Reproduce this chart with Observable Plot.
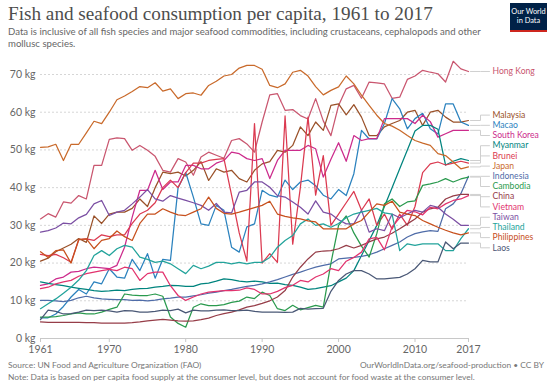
<!DOCTYPE html>
<html><head><meta charset="utf-8">
<script src="https://cdn.jsdelivr.net/npm/d3@7"></script>
<script src="https://cdn.jsdelivr.net/npm/@observablehq/plot@0.6"></script>
<style>
body{margin:0;background:#fff;width:550px;height:388px;overflow:hidden;position:relative;font-family:Lato,"Noto Sans",sans-serif}
#title{position:absolute;left:8px;top:3px;font-family:"Liberation Serif",serif;font-size:19.2px;color:#4d4d4d;white-space:nowrap}
#subtitle{position:absolute;left:8px;top:26px;font-size:9.6px;line-height:11.5px;color:#666;white-space:nowrap}
#logo{position:absolute;right:3px;top:3px;width:37px;height:29px;background:#002147;color:#fff;font-size:7.4px;line-height:8.5px;text-align:center;box-sizing:border-box;padding-top:5px;border-bottom:2.5px solid #ce261e}
#chart{position:absolute;left:0;top:54px}
.foot{position:absolute;font-size:8.4px;color:#777;white-space:nowrap}
</style></head>
<body>
<div id="title">Fish and seafood consumption per capita, 1961 to 2017</div>
<div id="subtitle">Data is inclusive of all fish species and major seafood commodities, including crustaceans, cephalopods and other<br>mollusc species.</div>
<div id="logo">Our World<br>in Data</div>
<div id="chart"></div>
<div class="foot" style="left:8px;top:360px">Source: UN Food and Agriculture Organization (FAO)</div>
<div class="foot" style="right:6px;top:360px">OurWorldInData.org/seafood-production • CC BY</div>
<div class="foot" style="left:8px;top:372px">Note: Data is based on per capita food supply at the consumer level, but does not account for food waste at the consumer level.</div>
<script>
const years = d3.range(1961, 2018);
const xTicks = [1961, 1970, 1980, 1990, 2000, 2010, 2017];
const yTicks = [0, 10, 20, 30, 40, 50, 60, 70];

const countries = ["Hong Kong","Malaysia","Macao","South Korea","Myanmar","Brunei","Japan","Indonesia","Cambodia","China","Vietnam","Taiwan","Thailand","Philippines","Laos"];

const hongKong = [31.7,33.1,32.2,36.2,35.9,37.9,37.0,45.9,45.9,52.8, 53.2,53.0,49.9,51.2,49.9,48.3,44.6,44.1,47.7,46.8, 43.3,48.1,49.4,48.6,47.8,52.5,53.0,51.6,49.4,57.4, 64.6,64.9,60.5,60.7,59.1,58.2,63.6,57.7,53.8,61.8, 66.2,67.1,63.7,68.0,67.8,67.5,63.7,64.0,68.7,69.6, 71.1,70.6,70.2,68.0,73.5,71.5,70.8];
const malaysia = [20.5,21.3,23.0,24.0,25.0,26.5,25.5,32.5,30.5,33.0, 33.5,33.5,34.5,37.0,35.0,40.0,44.1,43.7,44.1,43.1, 44.6,46.9,41.9,45.0,44.1,44.6,42.4,41.5,44.6,46.3, 46.9,49.9,49.4,51.2,56.1,53.8,57.4,55.2,61.8,62.2, 59.3,62.0,58.7,53.8,53.8,56.1,57.0,57.8,60.0,60.5, 56.5,60.0,60.5,58.7,57.4,57.4,57.8];
const macao = [5.5,5.5,6.5,8.5,11.0,13.0,11.8,15.0,14.5,18.5, 16.3,16.0,21.0,18.0,22.5,16.0,21.0,20.7,40.0,44.0, 37.5,30.4,30.0,35.3,34.0,24.2,22.9,29.6,30.4,39.3, 38.0,37.5,42.0,39.5,41.5,42.0,40.5,38.0,37.0,39.5, 37.9,43.7,55.2,52.9,52.9,57.0,63.6,60.9,55.6,58.3, 59.7,55.6,54.2,62.2,62.2,57.4,56.5];
const southKorea = [14.1,14.5,15.8,16.3,17.6,17.8,18.5,18.9,18.7,18.5, 19.4,24.2,32.2,39.3,39.3,44.6,39.5,41.5,41.5,45.9, 45.9,45.0,45.0,46.5,47.2,49.4,49.0,47.7,47.2,47.7, 42.4,47.2,49.9,49.9,49.9,51.2,50.3,42.8,47.5,51.9, 47.0,53.8,52.5,53.0,53.0,58.3,58.3,58.3,58.3,57.0, 59.2,57.5,53.4,54.3,55.2,55.2,55.2];
const myanmar = [15.0,14.6,14.3,14.0,13.6,13.3,13.0,12.7,12.5,12.6, 12.8,12.7,13.0,13.2,13.3,13.6,13.8,14.1,14.0,13.8, 13.8,14.5,14.7,15.2,15.8,15.6,15.2,15.0,15.2,15.0, 14.6,14.7,14.3,14.1,13.6,13.0,13.2,13.6,14.0,15.0, 16.0,18.0,22.0,26.0,30.0,35.0,40.0,45.0,50.0,55.0, 56.5,56.5,55.5,46.0,47.0,47.7,47.2];
const brunei = [22.3,22.0,22.3,21.4,20.2,26.2,26.4,26.0,27.5,27.0, 27.5,27.5,30.5,33.0,34.0,36.0,40.0,42.0,40.0,44.0, 46.5,46.5,47.2,47.5,47.7,38.0,28.0,20.5,57.0,20.0, 22.5,20.2,59.0,25.0,40.0,58.7,38.0,48.5,30.0,33.0, 36.0,39.0,34.0,37.0,30.0,33.0,29.0,33.0,30.0,35.0, 44.0,46.3,46.8,46.0,46.5,47.0,46.5];
const japan = [50.7,50.8,51.5,47.2,51.5,51.5,54.5,57.6,57.0,60.0, 63.3,64.3,65.5,66.8,66.5,67.8,65.6,66.2,63.6,64.9, 65.1,64.5,67.1,68.2,69.6,70.0,71.7,72.4,72.4,71.4, 67.1,66.5,67.5,70.6,71.1,69.6,66.8,64.6,65.8,66.7, 69.6,67.5,64.5,61.8,59.2,57.0,56.3,55.2,53.8,52.5, 51.8,51.2,49.0,48.5,46.8,45.0,45.5];
const indonesia = [10.1,10.1,10.0,9.8,10.1,10.8,11.2,10.8,10.5,10.4, 10.3,10.3,10.1,10.2,10.0,10.2,10.5,10.7,11.0,11.0, 11.3,11.6,12.0,12.3,12.7,13.0,13.4,13.8,14.1,14.5, 15.0,15.6,16.3,17.0,17.6,18.3,18.9,19.4,19.8,21.1, 21.3,21.5,21.8,22.2,22.9,23.8,24.7,25.6,26.9,27.8, 28.3,28.6,28.4,34.4,35.7,38.4,43.0];
const cambodia = [5.7,5.7,5.8,6.1,6.5,6.8,6.5,6.5,7.0,7.7, 8.3,11.8,11.5,11.4,11.4,11.8,11.2,5.7,4.0,3.0, 8.3,9.2,8.7,8.7,9.0,9.6,9.9,11.0,10.6,12.3, 11.4,7.9,7.4,8.8,7.6,8.2,8.8,8.3,20.0,30.0, 32.5,28.0,24.5,21.6,27.8,35.7,37.0,35.0,36.2,36.5, 40.6,41.0,41.5,42.4,41.5,42.3,42.8];
const china = [4.4,4.3,4.3,4.3,4.3,4.3,4.2,4.2,4.1,4.1, 4.1,4.1,4.2,4.4,4.7,4.9,5.1,4.9,4.7,4.6, 4.7,5.0,5.4,6.1,6.6,7.0,7.6,8.3,8.7,9.3, 10.0,11.0,12.7,16.3,18.9,21.1,22.9,23.2,23.3,23.8, 24.7,24.0,24.7,25.6,26.4,26.9,27.9,29.1,30.4,31.7, 33.5,34.4,34.8,37.0,37.8,38.2,38.2];
const vietnam = [13.2,13.6,14.5,15.0,15.4,16.5,17.2,17.6,18.0,18.3, 18.0,18.9,18.5,15.4,17.2,17.6,17.6,14.0,11.4,10.1, 11.0,11.8,12.3,12.5,12.7,12.7,12.8,13.4,13.0,11.8, 11.8,12.5,13.5,14.1,15.4,15.0,16.3,17.1,18.5,18.0, 20.5,21.5,22.9,26.4,26.8,23.5,29.6,32.0,34.0,33.6, 32.8,34.8,34.4,35.7,36.6,37.0,37.9];
const taiwan = [28.2,28.6,29.3,30.6,30.4,32.0,32.9,35.7,36.6,32.6, 33.5,34.0,35.7,37.5,39.5,37.0,36.4,37.9,37.2,36.6, 36.0,35.3,34.0,35.8,33.5,33.3,38.8,39.3,41.5,41.5, 40.1,37.9,37.5,36.2,34.8,33.0,36.5,33.5,33.0,31.5, 30.4,30.4,34.0,28.2,29.1,28.6,33.0,32.0,33.0,34.0, 33.5,35.3,34.8,33.0,31.6,30.0,30.0];
const thailand = [7.9,9.2,10.5,12.0,13.6,15.5,18.0,22.0,23.3,22.0, 23.8,24.7,24.2,21.6,21.0,20.2,20.5,19.8,18.5,17.2, 19.4,18.5,19.2,20.2,20.2,19.8,20.2,19.8,20.2,20.2, 21.5,24.2,26.0,27.3,30.4,31.7,30.0,30.4,29.5,30.5, 32.0,33.0,33.5,34.0,34.5,33.3,33.0,23.3,25.1,24.7, 25.1,25.1,25.1,23.3,23.3,26.5,29.1];
const philippines = [23.0,21.5,23.3,23.5,20.0,26.2,26.4,23.8,26.0,26.5, 28.5,27.0,26.0,30.5,33.0,33.0,34.4,33.5,32.8,32.6, 33.5,34.4,37.5,34.5,33.2,33.0,33.5,34.1,34.7,35.3, 36.4,33.0,32.4,32.0,31.7,31.2,30.9,29.1,29.1,29.1, 29.1,30.4,31.3,33.5,35.7,35.3,36.4,33.5,33.0,32.6, 31.3,30.4,29.5,28.7,28.0,27.5,28.0];
const laos = [5.0,7.5,7.2,6.5,6.6,7.0,7.5,7.4,7.5,7.3, 7.0,7.4,7.3,7.0,7.0,7.2,7.5,7.4,7.8,6.8, 7.5,7.3,7.3,7.5,7.6,7.4,7.4,7.5,7.2,7.0, 7.0,7.0,6.9,7.0,8.0,7.8,7.9,8.0,12.5,15.4, 17.1,18.0,18.0,17.1,15.8,15.8,16.0,16.2,17.1,18.5, 20.7,20.3,20.3,25.6,23.8,25.3,25.3];

const seriesValues = [hongKong, malaysia, macao, southKorea, myanmar, brunei, japan, indonesia, cambodia, china, vietnam, taiwan, thailand, philippines, laos];
const palette = ["#C9566F","#9A5129","#2B82BE","#CC2B8C","#00847E","#DB3A50","#C96A2B","#4F6CA8","#2A9A4E","#963D48","#E2336E","#7B4FA3","#22A39B","#C7501D","#4A5876"];

const rows = [];
countries.forEach((c, i) => seriesValues[i].forEach((v, j) => rows.push({country: c, year: years[j], value: v})));

const base = {
  width: 550, height: 306,
  marginTop: 20, marginBottom: 22, marginLeft: 40, marginRight: 82,
  x: {domain: [1961, 2017], label: null},
  y: {domain: [0, 70], label: null},
  color: {domain: countries, range: palette},
  style: {fontFamily: "Lato, 'Noto Sans', sans-serif", fontSize: "10.5px", color: "#666", background: "transparent", overflow: "visible"}
};

const probe = Plot.plot({...base, marks: [Plot.line(rows, {x: "year", y: "value", z: "country"})]});
const xs = probe.scale("x"), ys = probe.scale("y");

// label placement: avoid overlaps, centred on line ends
const lastYear = years[years.length - 1];
const ends = countries.map((c, i) => ({country: c, end: seriesValues[i][seriesValues[i].length - 1]}));
ends.forEach(d => d.t = ys.apply(d.end));
const sorted = ends.slice().sort((a, b) => a.t - b.t);
const gap = 10.2;
let blocks = [];
const topOf = blk => d3.mean(blk.items, (d, k) => d.t - k * gap);
for (const it of sorted) {
  blocks.push({items: [it]});
  while (blocks.length > 1) {
    const b = blocks[blocks.length - 1], a = blocks[blocks.length - 2];
    if (topOf(a) + a.items.length * gap > topOf(b)) {
      blocks.splice(blocks.length - 2, 2, {items: a.items.concat(b.items)});
    } else break;
  }
}
for (const blk of blocks) {
  const top = topOf(blk);
  blk.items.forEach((d, k) => d.py = top + k * gap);
}
const xEndPx = xs.apply(lastYear);
const xa = xs.invert(xEndPx + 2), xb = xs.invert(xEndPx + 12), xc = xs.invert(xEndPx + 21), xl = xs.invert(xEndPx + 24);
const connectors = [];
const labels = [];
for (const d of ends) {
  const yl = ys.invert(d.py);
  connectors.push({country: d.country, x: xa, y: d.end}, {country: d.country, x: xb, y: d.end}, {country: d.country, x: xb, y: yl}, {country: d.country, x: xc, y: yl});
  labels.push({country: d.country, x: xl, y: yl});
}

const chart = Plot.plot({
  ...base,
  marks: [
    Plot.gridY(yTicks.filter(t => t > 0), {stroke: "#d6d6d6", strokeOpacity: 1, strokeDasharray: "2,2"}),
    Plot.ruleY([0], {stroke: "#c8c8c8"}),
    Plot.axisX({ticks: xTicks, tickFormat: d => String(d), tickSize: 4, tickPadding: 3, stroke: "#c8c8c8", fill: "#666"}),
    Plot.axisY({ticks: yTicks, tickFormat: d => `${d} kg`, tickSize: 0, tickPadding: 5, fill: "#666"}),
    Plot.line(connectors, {x: "x", y: "y", z: "country", stroke: "#cfcfcf", strokeWidth: 1}),
    Plot.line(rows, {x: "year", y: "value", z: "country", stroke: "country", strokeWidth: 1.25}),
    Plot.text(labels, {x: "x", y: "y", text: "country", fill: "country", textAnchor: "start", fontSize: 8.6})
  ]
});
document.getElementById("chart").appendChild(chart);
</script>
</body></html>
